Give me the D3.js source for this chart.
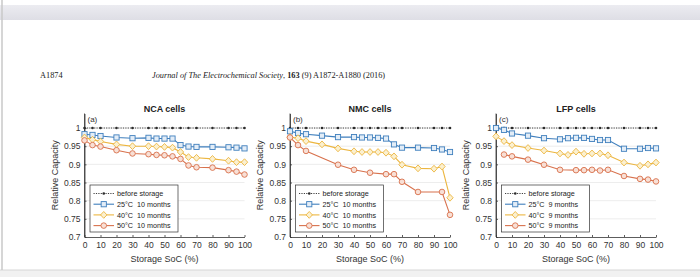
<!DOCTYPE html>
<html>
<head>
<meta charset="utf-8">
<script src="https://cdn.jsdelivr.net/npm/d3@7"></script>
<style>
  body { margin: 0; background: #fff; }
  svg { display: block; }
</style>
</head>
<body>
<script>
// panel titles and legend text
var titles = ["NCA cells", "NMC cells", "LFP cells"];
var tags = ["(a)", "(b)", "(c)"];
var months = ["10 months", "10 months", "9 months"];
var temps = ["25°C", "40°C", "50°C"];

// tick labels
var xTicks = [0, 10, 20, 30, 40, 50, 60, 70, 80, 90, 100];
var yTicks = [0.7, 0.75, 0.8, 0.85, 0.9, 0.95, 1];

// storage SoC points
var socFull = [0, 5, 10, 20, 30, 40, 45, 50, 55, 60, 65, 70, 80, 90, 95, 100];
var socNmc50 = [0, 5, 10, 30, 40, 50, 60, 65, 70, 80, 95, 100];
var socLfp50 = [5, 10, 20, 30, 40, 50, 55, 60, 65, 70, 80, 90, 95, 100];

// before storage (all 1)
var before = [1, 1, 1, 1, 1, 1, 1, 1, 1, 1, 1, 1, 1, 1, 1, 1];

// NCA
var nca25 = [0.983, 0.981, 0.978, 0.974, 0.972, 0.973, 0.971, 0.971, 0.971, 0.953, 0.949, 0.948, 0.948, 0.947, 0.946, 0.944];
var nca40 = [0.974, 0.968, 0.963, 0.955, 0.950, 0.950, 0.949, 0.948, 0.946, 0.934, 0.920, 0.918, 0.915, 0.910, 0.906, 0.906];
var nca50 = [0.966, 0.953, 0.949, 0.939, 0.930, 0.928, 0.926, 0.925, 0.922, 0.915, 0.897, 0.892, 0.891, 0.884, 0.880, 0.872];

// NMC
var nmc25 = [0.991, 0.986, 0.983, 0.979, 0.975, 0.975, 0.974, 0.974, 0.973, 0.971, 0.955, 0.946, 0.946, 0.945, 0.941, 0.934];
var nmc40 = [0.975, 0.972, 0.964, 0.955, 0.944, 0.936, 0.934, 0.934, 0.934, 0.932, 0.922, 0.899, 0.889, 0.888, 0.894, 0.808];
var nmc50 = [0.974, 0.953, 0.937, 0.899, 0.885, 0.877, 0.873, 0.873, 0.852, 0.824, 0.824, 0.761];

// LFP
var lfp25 = [1.0, 0.995, 0.985, 0.979, 0.972, 0.969, 0.972, 0.973, 0.973, 0.970, 0.967, 0.967, 0.943, 0.943, 0.945, 0.944];
var lfp40 = [0.977, 0.964, 0.953, 0.945, 0.938, 0.930, 0.926, 0.935, 0.929, 0.930, 0.930, 0.925, 0.905, 0.896, 0.900, 0.905];
var lfp50 = [0.927, 0.922, 0.913, 0.899, 0.885, 0.884, 0.884, 0.885, 0.883, 0.885, 0.868, 0.860, 0.858, 0.853];

var panels = [
    { x: [socFull, socFull, socFull, socFull], y: [before, nca25, nca40, nca50] },
    { x: [socFull, socFull, socFull, socNmc50], y: [before, nmc25, nmc40, nmc50] },
    { x: [socFull, socFull, socFull, socLfp50], y: [before, lfp25, lfp40, lfp50] }
];

// styles
var colors = ["#2b2b2b", "#3f7fbd", "#ecb640", "#d8714c"];
var fills = ["#2b2b2b", "#e3edf7", "#fbf0d0", "#f8e0d6"];
var sans = "'Liberation Sans', Arial, sans-serif";
var serif = "'Liberation Serif', 'Times New Roman', serif";

var W = 700, H = 277;
var svg = d3.select("body").append("svg").attr("width", W).attr("height", H);

// page chrome
var grad = svg.append("defs").append("linearGradient").attr("id", "band")
    .attr("x1", 0).attr("y1", 0).attr("x2", 0).attr("y2", 1);
grad.append("stop").attr("offset", 0).attr("stop-color", "#ececf1");
grad.append("stop").attr("offset", 1).attr("stop-color", "#dedee5");
svg.append("rect").attr("x", 0).attr("y", 5).attr("width", W).attr("height", 15).attr("fill", "url(#band)");
svg.append("rect").attr("x", 0).attr("y", 270).attr("width", W).attr("height", 7).attr("fill", "#f1f1f1");
svg.append("line").attr("x1", 0).attr("x2", W).attr("y1", 270).attr("y2", 270).attr("stroke", "#d6d6d6");
svg.append("line").attr("x1", 2).attr("x2", 2).attr("y1", 0).attr("y2", 270).attr("stroke", "#c8c8c8").attr("stroke-width", 1.5);

// journal header
svg.append("text").attr("x", 40).attr("y", 78).attr("font-family", serif).attr("font-size", 8.3)
    .attr("fill", "#222").text("A1874");
var hdr = svg.append("text").attr("x", 152).attr("y", 78).attr("font-family", serif).attr("font-size", 8.3)
    .attr("fill", "#222");
hdr.append("tspan").attr("font-style", "italic").text("Journal of The Electrochemical Society");
hdr.append("tspan").text(", ");
hdr.append("tspan").attr("font-weight", "bold").text("163");
hdr.append("tspan").text(" (9) A1872-A1880 (2016)");

var plotW = 160, yTop = 113.5, yBot = 237;
var lefts = [84.5, 290, 496];

var y = d3.scaleLinear().domain([0.7, 1.04]).range([yBot, yTop]);

panels.forEach(function(pd, i) {
    var x = d3.scaleLinear().domain([0, 100]).range([lefts[i], lefts[i] + plotW]);
    var g = svg.append("g");

    // grid
    g.selectAll(".grid").data(yTicks.slice(1)).enter().append("line")
        .attr("x1", lefts[i]).attr("x2", lefts[i] + plotW)
        .attr("y1", function(d) { return y(d); }).attr("y2", function(d) { return y(d); })
        .attr("stroke", "#e8e8e8").attr("stroke-width", 0.8);

    // axes
    var xa = g.append("g").attr("transform", "translate(0," + yBot + ")")
        .call(d3.axisBottom(x).tickValues(xTicks).tickSizeInner(-2).tickSizeOuter(0).tickPadding(5));
    var ya = g.append("g").attr("transform", "translate(" + lefts[i] + ",0)")
        .call(d3.axisLeft(y).tickValues(yTicks).tickSizeInner(-2).tickSizeOuter(0).tickPadding(4)
            .tickFormat(function(d) { return d3.format("")(+d.toFixed(2)); }));
    [xa, ya].forEach(function(a) {
        a.select(".domain").attr("stroke", "#333").attr("stroke-width", 0.8);
        a.selectAll("line").attr("stroke", "#333").attr("stroke-width", 0.8);
        a.selectAll("text").attr("font-family", sans).attr("font-size", 8.5).attr("fill", "#333");
    });
    // y axis extends to top
    g.append("line").attr("x1", lefts[i]).attr("x2", lefts[i]).attr("y1", yTop).attr("y2", yBot)
        .attr("stroke", "#333").attr("stroke-width", 0.8);

    // labels
    g.append("text").attr("x", lefts[i] + plotW / 2).attr("y", 112).attr("text-anchor", "middle")
        .attr("font-family", sans).attr("font-weight", "bold").attr("font-size", 9).attr("fill", "#222")
        .text(titles[i]);
    g.append("text").attr("x", lefts[i] + 3).attr("y", 122)
        .attr("font-family", sans).attr("font-size", 8).attr("fill", "#333").text(tags[i]);
    g.append("text").attr("x", lefts[i] + plotW / 2).attr("y", 262).attr("text-anchor", "middle")
        .attr("font-family", sans).attr("font-size", 9).attr("fill", "#333").text("Storage SoC (%)");
    g.append("text").attr("transform", "translate(" + (lefts[i] - 27) + "," + ((yTop + yBot) / 2) + ") rotate(-90)")
        .attr("text-anchor", "middle").attr("font-family", sans).attr("font-size", 9).attr("fill", "#333")
        .text("Relative Capacity");

    // series
    pd.y.forEach(function(vals, s) {
        var pts = vals.map(function(v, k) { return [pd.x[s][k], v]; });
        var line = d3.line().x(function(d) { return x(d[0]); }).y(function(d) { return y(d[1]); });
        g.append("path").datum(pts).attr("d", line).attr("fill", "none")
            .attr("stroke", colors[s]).attr("stroke-width", s === 0 ? 0.9 : 1.1)
            .attr("stroke-dasharray", s === 0 ? "1.2,1.2" : null);
        drawMarkers(g, pts.map(function(d) { return [x(d[0]), y(d[1])]; }), s);
    });

    // legend
    var lx = lefts[i] + 5.5, ly = 185;
    g.append("rect").attr("x", lx).attr("y", ly).attr("width", 88).attr("height", 47)
        .attr("fill", "#fff").attr("stroke", "#333").attr("stroke-width", 0.7);
    var labels = ["before storage"].concat(temps.map(function(t) { return t + "  " + months[i]; }));
    labels.forEach(function(lab, s) {
        var yy = ly + 8.5 + s * 10.7;
        g.append("line").attr("x1", lx + 3.5).attr("x2", lx + 24).attr("y1", yy).attr("y2", yy)
            .attr("stroke", colors[s]).attr("stroke-width", s === 0 ? 0.9 : 1.1)
            .attr("stroke-dasharray", s === 0 ? "1.2,1.2" : null);
        drawMarkers(g, [[lx + 13.75, yy]], s);
        g.append("text").attr("x", lx + 27).attr("y", yy + 2.7).attr("font-family", sans)
            .attr("font-size", 7.2).attr("fill", "#222").text(lab.replace("  ", "\u00a0\u00a0"));
    });
});

function drawMarkers(g, pts, s) {
    pts.forEach(function(p) {
        if (s === 0) {
            g.append("circle").attr("cx", p[0]).attr("cy", p[1]).attr("r", 1.3).attr("fill", colors[0]);
        } else if (s === 1) {
            g.append("rect").attr("x", p[0] - 2.6).attr("y", p[1] - 2.6).attr("width", 5.2).attr("height", 5.2)
                .attr("fill", fills[1]).attr("stroke", colors[1]).attr("stroke-width", 0.9);
        } else if (s === 2) {
            g.append("path").attr("d", "M" + p[0] + "," + (p[1] - 3.4) + "L" + (p[0] + 3.2) + "," + p[1] +
                "L" + p[0] + "," + (p[1] + 3.4) + "L" + (p[0] - 3.2) + "," + p[1] + "Z")
                .attr("fill", fills[2]).attr("stroke", colors[2]).attr("stroke-width", 0.9);
        } else {
            g.append("circle").attr("cx", p[0]).attr("cy", p[1]).attr("r", 2.8)
                .attr("fill", fills[3]).attr("stroke", colors[3]).attr("stroke-width", 0.9);
        }
    });
}
</script>
</body>
</html>
